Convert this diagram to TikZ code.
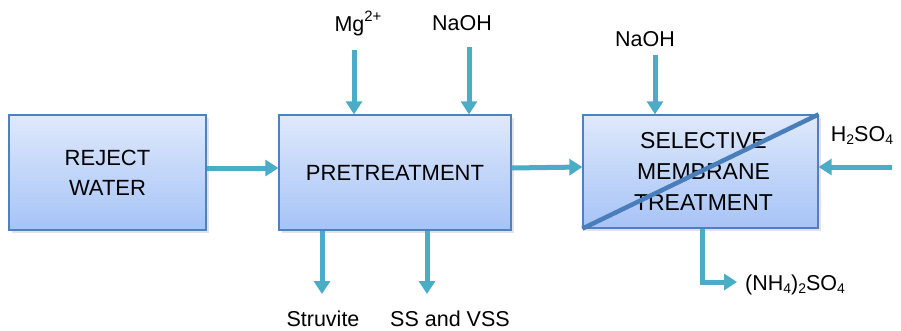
\documentclass[tikz,border=0pt]{standalone}
\usepackage{fontspec}
\setmainfont{Liberation Sans}
\usetikzlibrary{arrows.meta,shadows}
\definecolor{arr}{HTML}{4BACC6}
\definecolor{bord}{HTML}{4F81BD}
\definecolor{diag}{HTML}{4A7EBB}
\definecolor{topc}{HTML}{DFE9FB}
\definecolor{botc}{HTML}{A6C3F7}
\newcommand{\subx}[1]{\raisebox{-0.18em}{\fontsize{14}{14}\selectfont #1}}
\newcommand{\supx}[1]{\raisebox{0.42em}{\fontsize{15}{15}\selectfont #1}}
\begin{document}
\begin{tikzpicture}[x=1pt,y=-1pt,
  proc/.style={draw=bord, line width=1.3pt, top color=topc, bottom color=botc,
    align=center, inner sep=0pt, font=\fontsize{22}{30}\selectfont,
    drop shadow={opacity=0.22, shadow xshift=2.5pt, shadow yshift=-2.5pt}},
  flow/.style={draw=arr, line width=5pt, -{Triangle[length=13pt,width=16pt]}},
  lbl/.style={font=\fontsize{21.5}{26}\selectfont, inner sep=0pt, anchor=base}]
\useasboundingbox (0,0) rectangle (901,330);
% boxes
\node[proc, minimum width=197pt, minimum height=115pt] (b1) at (107.5,172.5) {REJECT\\WATER};
\node[proc, minimum width=232pt, minimum height=115pt] (b2) at (395,172.5) {PRETREATMENT};
\node[proc, minimum width=235pt, minimum height=113pt, font=\fontsize{23}{31}\selectfont] (b3) at (700.5,171.5) {\hspace*{6pt}SELECTIVE\\\hspace*{6pt}MEMBRANE\\\hspace*{6pt}TREATMENT};
\draw[diag, line width=4.5pt] (b3.south west) -- (b3.north east);
% labels
\node[lbl] (mg) at (358,31) {Mg\supx{2+}};
\node[lbl] (naoh1) at (462,30) {NaOH};
\node[lbl] (naoh2) at (645,46) {NaOH};
\node[lbl] (h2so4) at (862,141) {H\subx{2}SO\subx{4}};
\node[lbl] (struv) at (323,326) {Struvite};
\node[lbl] (ss) at (450,326) {SS and VSS};
\node[lbl, anchor=base west] (nh4) at (745,290) {(NH\subx{4})\subx{2}SO\subx{4}};
% free ends
\coordinate (mgs) at (354,50);
\coordinate (nas1) at (469,47);
\coordinate (nas2) at (655,55);
\coordinate (hs) at (892,167);
\coordinate (st) at (322,294);
\coordinate (sst) at (427,294);
\coordinate (nht) at (737,282);
% connectors
\draw[flow] ([yshift=4.5pt]b1.east) -- ([yshift=4.5pt]b2.west);
\draw[flow] ([yshift=4.5pt]b2.east) -- ([yshift=4.5pt]b3.west);
\draw[flow] (mgs) -- (mgs |- b2.north);
\draw[flow] (nas1) -- (nas1 |- b2.north);
\draw[flow] (nas2) -- (nas2 |- b3.north);
\draw[flow] (hs) -- (hs -| b3.east);
\draw[flow] (st |- b2.south) -- (st);
\draw[flow] (sst |- b2.south) -- (sst);
\draw[flow] (b3.south -| 702,0) |- (nht);
\end{tikzpicture}
\end{document}
